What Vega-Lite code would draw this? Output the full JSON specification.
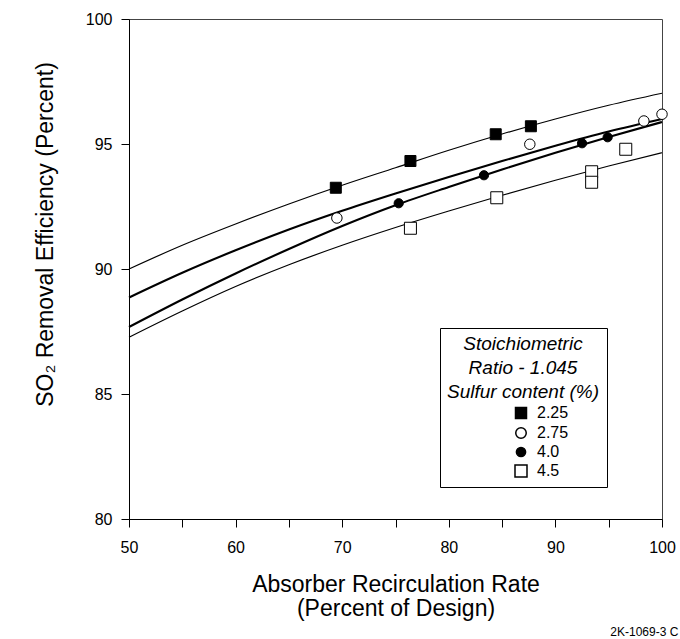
{
  "$schema": "https://vega.github.io/schema/vega-lite/v6.json",
  "width": 533,
  "height": 500,
  "autosize": "none",
  "padding": {"left": 129, "top": 19, "right": 18, "bottom": 120},
  "background": "white",
  "title": {
    "text": "2K-1069-3 C",
    "orient": "bottom",
    "anchor": "end",
    "fontSize": 12,
    "fontWeight": "normal",
    "font": "Liberation Sans",
    "color": "black",
    "offset": 7,
    "dx": 3
  },
  "config": {
    "font": "Liberation Sans",
    "view": {"stroke": "#444", "strokeWidth": 1},
    "axis": {
      "grid": false,
      "domainColor": "black",
      "domainWidth": 1,
      "tickColor": "black",
      "tickSize": 8,
      "labelColor": "black",
      "titleColor": "black",
      "labelFontSize": 16,
      "labelFlush": false,
      "titleFontSize": 23,
      "titleFontWeight": "normal"
    }
  },
  "datasets": {
    "curves": [
      {"rate": 50, "eff": 90.0, "series": "2.25"},
      {"rate": 55, "eff": 90.95, "series": "2.25"},
      {"rate": 60, "eff": 91.8, "series": "2.25"},
      {"rate": 65, "eff": 92.6, "series": "2.25"},
      {"rate": 70, "eff": 93.35, "series": "2.25"},
      {"rate": 75, "eff": 94.05, "series": "2.25"},
      {"rate": 80, "eff": 94.75, "series": "2.25"},
      {"rate": 85, "eff": 95.4, "series": "2.25"},
      {"rate": 90, "eff": 96.0, "series": "2.25"},
      {"rate": 95, "eff": 96.55, "series": "2.25"},
      {"rate": 100, "eff": 97.03, "series": "2.25"},
      {"rate": 50, "eff": 88.86, "series": "2.75"},
      {"rate": 55, "eff": 89.85, "series": "2.75"},
      {"rate": 60, "eff": 90.75, "series": "2.75"},
      {"rate": 65, "eff": 91.58, "series": "2.75"},
      {"rate": 70, "eff": 92.33, "series": "2.75"},
      {"rate": 75, "eff": 93.02, "series": "2.75"},
      {"rate": 80, "eff": 93.68, "series": "2.75"},
      {"rate": 85, "eff": 94.32, "series": "2.75"},
      {"rate": 90, "eff": 94.93, "series": "2.75"},
      {"rate": 95, "eff": 95.5, "series": "2.75"},
      {"rate": 100, "eff": 96.0, "series": "2.75"},
      {"rate": 50, "eff": 87.68, "series": "4.0"},
      {"rate": 55, "eff": 88.78, "series": "4.0"},
      {"rate": 60, "eff": 89.82, "series": "4.0"},
      {"rate": 65, "eff": 90.8, "series": "4.0"},
      {"rate": 70, "eff": 91.72, "series": "4.0"},
      {"rate": 75, "eff": 92.55, "series": "4.0"},
      {"rate": 80, "eff": 93.28, "series": "4.0"},
      {"rate": 85, "eff": 93.98, "series": "4.0"},
      {"rate": 90, "eff": 94.65, "series": "4.0"},
      {"rate": 95, "eff": 95.28, "series": "4.0"},
      {"rate": 100, "eff": 95.88, "series": "4.0"},
      {"rate": 50, "eff": 87.27, "series": "4.5"},
      {"rate": 55, "eff": 88.32, "series": "4.5"},
      {"rate": 60, "eff": 89.3, "series": "4.5"},
      {"rate": 65, "eff": 90.17, "series": "4.5"},
      {"rate": 70, "eff": 90.95, "series": "4.5"},
      {"rate": 75, "eff": 91.66, "series": "4.5"},
      {"rate": 80, "eff": 92.32, "series": "4.5"},
      {"rate": 85, "eff": 92.95, "series": "4.5"},
      {"rate": 90, "eff": 93.55, "series": "4.5"},
      {"rate": 95, "eff": 94.12, "series": "4.5"},
      {"rate": 100, "eff": 94.65, "series": "4.5"}
    ],
    "points": [
      {"rate": 69.4, "eff": 93.25, "sulfur": "2.25"},
      {"rate": 76.4, "eff": 94.32, "sulfur": "2.25"},
      {"rate": 84.4, "eff": 95.39, "sulfur": "2.25"},
      {"rate": 87.7, "eff": 95.71, "sulfur": "2.25"},
      {"rate": 69.5, "eff": 92.04, "sulfur": "2.75"},
      {"rate": 87.6, "eff": 94.99, "sulfur": "2.75"},
      {"rate": 98.3, "eff": 95.92, "sulfur": "2.75"},
      {"rate": 100.0, "eff": 96.19, "sulfur": "2.75"},
      {"rate": 75.3, "eff": 92.63, "sulfur": "4.0"},
      {"rate": 83.3, "eff": 93.75, "sulfur": "4.0"},
      {"rate": 92.5, "eff": 95.03, "sulfur": "4.0"},
      {"rate": 94.9, "eff": 95.27, "sulfur": "4.0"},
      {"rate": 76.4, "eff": 91.63, "sulfur": "4.5"},
      {"rate": 84.5, "eff": 92.85, "sulfur": "4.5"},
      {"rate": 93.4, "eff": 93.89, "sulfur": "4.5"},
      {"rate": 93.4, "eff": 93.47, "sulfur": "4.5"},
      {"rate": 96.6, "eff": 94.79, "sulfur": "4.5"}
    ]
  },
  "encoding": {
    "x": {
      "field": "rate",
      "type": "quantitative",
      "scale": {"domain": [50, 100], "nice": false, "zero": false},
      "axis": {
        "values": [50, 55, 60, 65, 70, 75, 80, 85, 90, 95, 100],
        "labelExpr": "datum.value % 10 === 0 ? datum.label : ''",
        "labelPadding": 12,
        "title": ["Absorber Recirculation Rate", "(Percent of Design)"],
        "titleLineHeight": 24,
        "titleBaseline": "alphabetic",
        "titleY": 72
      }
    },
    "y": {
      "field": "eff",
      "type": "quantitative",
      "scale": {"domain": [80, 100], "nice": false, "zero": false},
      "axis": {
        "values": [80, 85, 90, 95, 100],
        "labelPadding": 9,
        "title": "SO₂  Removal Efficiency (Percent)",
        "titleBaseline": "alphabetic",
        "titleX": -77,
        "titleY": 215
      }
    }
  },
  "layer": [
    {
      "data": {"name": "curves"},
      "transform": [{"filter": {"field": "series", "oneOf": ["2.25", "4.5"]}}],
      "mark": {"type": "line", "interpolate": "monotone", "color": "black", "strokeWidth": 1.2},
      "encoding": {
        "detail": {"field": "series", "type": "nominal"}
      }
    },
    {
      "data": {"name": "curves"},
      "transform": [{"filter": {"field": "series", "oneOf": ["2.75", "4.0"]}}],
      "mark": {"type": "line", "interpolate": "monotone", "color": "black", "strokeWidth": 2.1},
      "encoding": {
        "detail": {"field": "series", "type": "nominal"}
      }
    },
    {
      "data": {"name": "points"},
      "mark": {"type": "point", "filled": true, "stroke": "black", "strokeWidth": 1, "opacity": 1},
      "encoding": {
        "shape": {
          "field": "sulfur",
          "type": "nominal",
          "scale": {"domain": ["2.25", "2.75", "4.0", "4.5"], "range": ["square", "circle", "circle", "square"]},
          "legend": {
            "title": ["Stoichiometric", "Ratio - 1.045", "Sulfur content (%)"],
            "orient": "none",
            "legendX": 311,
            "legendY": 309,
            "padding": 7,
            "strokeColor": "black",
            "fillColor": "white",
            "titleFontStyle": "italic",
            "titleFontWeight": "normal",
            "titleFontSize": 19,
            "titleLineHeight": 24,
            "titleAnchor": "middle",
            "titleAlign": "center",
            "titlePadding": 3,
            "titleColor": "black",
            "labelFontSize": 16,
            "labelColor": "black",
            "labelOffset": 8,
            "rowPadding": 2,
            "symbolOffset": 35,
            "symbolStrokeColor": "black"
          }
        },
        "fill": {
          "field": "sulfur",
          "type": "nominal",
          "scale": {"domain": ["2.25", "2.75", "4.0", "4.5"], "range": ["black", "white", "black", "white"]}
        },
        "size": {
          "field": "sulfur",
          "type": "nominal",
          "scale": {"type": "ordinal", "domain": ["2.25", "2.75", "4.0", "4.5"], "range": [121, 110, 85, 144]}
        }
      }
    }
  ]
}
